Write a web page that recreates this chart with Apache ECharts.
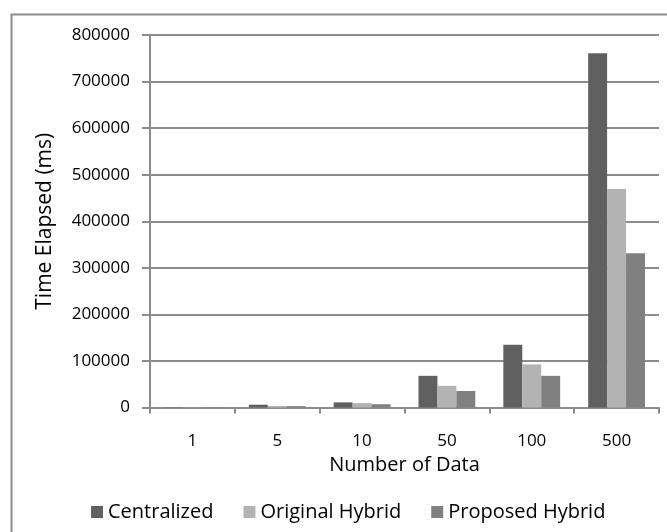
<!DOCTYPE html>
<html>
<head>
<meta charset="utf-8">
<script src="https://cdn.jsdelivr.net/npm/echarts@6/dist/echarts.min.js"></script>
<style>
  html, body { margin: 0; padding: 0; background: #fff; }
  #chart { width: 667px; height: 532px; }
</style>
</head>
<body>
<div id="chart"></div>
<script>
// Dataset sizes on the category axis
const categories = ['1', '5', '10', '50', '100', '500'];

// Elapsed time per approach (ms)
const centralized    = [600, 6000, 11000, 68000, 135000, 761000];
const originalHybrid = [400, 3500, 9500, 46500, 92500, 469000];
const proposedHybrid = [300, 3000, 7000, 35500, 68000, 331500];

const yTicks = { min: 0, max: 800000, step: 100000 };

const FONT = 'Open Sans';
const GRID_GRAY = '#8c8c8c';

const chart = echarts.init(document.getElementById('chart'), null, { renderer: 'canvas' });

function barSeries(name, data, color) {
  return {
    name: name,
    type: 'bar',
    data: data,
    barGap: '0%',
    barCategoryGap: '33%',
    itemStyle: { color: color },
    emphasis: { disabled: true }
  };
}

chart.setOption({
  animation: false,
  backgroundColor: '#ffffff',
  graphic: [{
    type: 'rect',
    left: 9, top: 12,
    shape: { width: 700, height: 600 },
    style: { fill: 'none', stroke: '#8c8c8c', lineWidth: 2 },
    silent: true
  }],
  grid: { left: 150, top: 35, right: 8, bottom: 124.5, containLabel: false },
  legend: {
    left: 86, top: 497,
    itemWidth: 12, itemHeight: 12, itemGap: 30,
    icon: 'rect',
    textStyle: { fontFamily: FONT, fontSize: 20, color: '#000' },
    data: ['Centralized', 'Original Hybrid', 'Proposed Hybrid']
  },
  xAxis: {
    type: 'category',
    data: categories,
    name: 'Number of Data',
    nameLocation: 'middle',
    nameGap: 48,
    nameTextStyle: { fontFamily: FONT, fontSize: 20, color: '#000' },
    axisLine: { lineStyle: { color: GRID_GRAY, width: 2 } },
    axisTick: { show: true, length: 6, interval: 0, lineStyle: { color: GRID_GRAY, width: 2 } },
    axisLabel: { fontFamily: FONT, fontSize: 17, color: '#000', margin: 25 }
  },
  yAxis: {
    type: 'value',
    min: yTicks.min, max: yTicks.max, interval: yTicks.step,
    name: 'Time Elapsed (ms)',
    nameLocation: 'middle',
    nameGap: 94,
    nameTextStyle: { fontFamily: FONT, fontSize: 21, color: '#000' },
    axisLine: { show: true, lineStyle: { color: GRID_GRAY, width: 2 } },
    axisTick: { show: true, length: 8, lineStyle: { color: GRID_GRAY, width: 2 } },
    axisLabel: {
      fontFamily: FONT, fontSize: 17, color: '#000', margin: 20,
      formatter: function (v) { return String(v); }
    },
    splitLine: { show: true, lineStyle: { color: GRID_GRAY, width: 2 } }
  },
  series: [
    barSeries('Centralized', centralized, '#606060'),
    barSeries('Original Hybrid', originalHybrid, '#b3b3b3'),
    barSeries('Proposed Hybrid', proposedHybrid, '#808080')
  ]
});
</script>
</body>
</html>
